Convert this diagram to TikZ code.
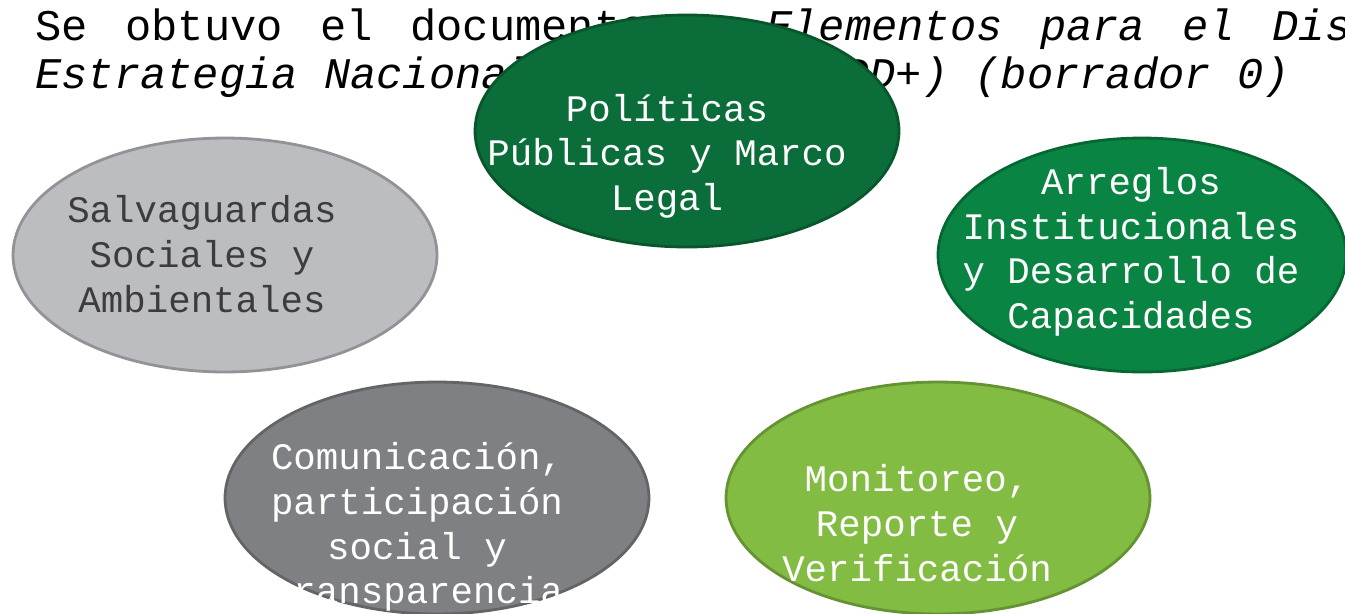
\documentclass[tikz,border=0pt]{standalone}
\usepackage{fontspec}
\setmonofont{Liberation Mono}
\usetikzlibrary{shapes.geometric}
\definecolor{verdeosc}{RGB}{11,110,58}
\definecolor{verde}{RGB}{9,132,66}
\definecolor{verdeclaro}{RGB}{130,188,66}
\definecolor{grisclaro}{RGB}{188,189,193}
\definecolor{gris}{RGB}{127,128,131}
\definecolor{letragris}{RGB}{60,60,62}
\newcommand\esp{\hspace{0.75cm}}
\tikzset{
  burbuja/.style={ellipse, fill=#1, draw=#1!78!black, line width=1.6pt,
    minimum width=8.48cm, minimum height=4.64cm, inner sep=0pt},
  rotulo/.style={font=\ttfamily\fontsize{21.3}{25.4}\selectfont, align=center,
    text=white, inner sep=0pt},
  titulo/.style={font=\ttfamily\fontsize{24.9}{28}\selectfont, inner sep=0pt}
}
\begin{document}
\begin{tikzpicture}[x=0.02cm,y=-0.02cm]
\useasboundingbox (0,0) rectangle (1345,613);
% titulo
\node[titulo,anchor=base west] (lin1) at (35,40) {Se\esp obtuvo\esp el\esp documento};
\node[titulo,anchor=base west] (lin1b) at (766,40) {\itshape Elementos\esp para\esp el\esp Diseño};
\node[titulo,anchor=base west] (lin2) at (35,88) {\itshape Estrategia Nacional};
\node[titulo,anchor=base east] (lin2b) at (1290,88) {\itshape (ENAREDD+) (borrador 0)};
% elipses
\node[burbuja=verdeosc] (pol) at (687,131) {};
\node[burbuja=verde,minimum width=8.16cm,minimum height=4.68cm] (arr) at (1142,255) {};
\node[burbuja=grisclaro,minimum height=4.68cm] (sal) at (225,255) {};
\node[burbuja=gris] (com) at (437,498) {};
\node[burbuja=verdeclaro] (mon) at (938,498) {};
% textos
\node[rotulo] (pol-t) at (667,156) {Políticas\\Públicas y Marco\\Legal};
\node[rotulo] (arr-t) at (1131,252) {Arreglos\\Institucionales\\y Desarrollo de\\Capacidades};
\node[rotulo,text=letragris] (sal-t) at (202,254) {Salvaguardas\\Sociales y\\Ambientales};
\node[rotulo] (com-t) at (417,527) {Comunicación,\\participación\\social y\\transparencia};
\node[rotulo] (mon-t) at (917,523) {Monitoreo,\\Reporte y\\Verificación};
\end{tikzpicture}
\end{document}
